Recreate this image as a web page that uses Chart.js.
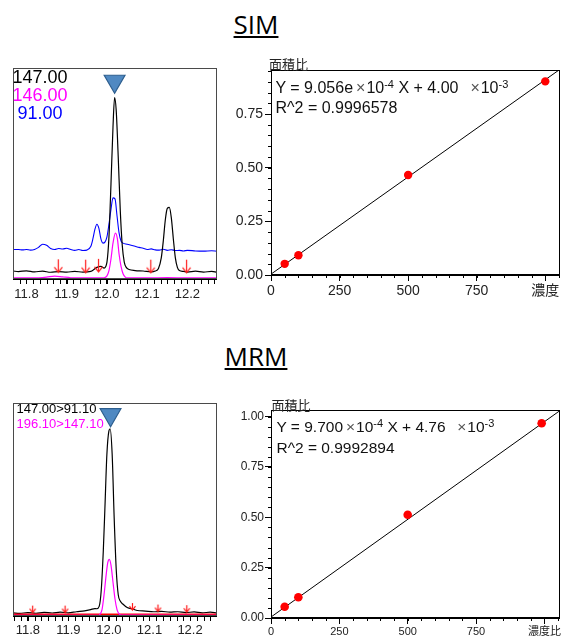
<!DOCTYPE html>
<html><head><meta charset="utf-8">
<script src="https://cdn.jsdelivr.net/npm/chart.js@4/dist/chart.umd.min.js"></script>
<style>
html,body{margin:0;padding:0;background:#fff;}
body{width:564px;height:636px;position:relative;overflow:hidden;font-family:"Liberation Sans",Arial,sans-serif;}
.cv{position:absolute;}
.t{position:absolute;white-space:pre;line-height:1;}
.title{font-family:"Open Sans",sans-serif;font-size:26px;text-decoration:underline;text-decoration-thickness:2px;text-underline-offset:2px;color:#000;transform:translateX(-50%);}
.eq{color:#111;}
.eq .x{color:#555;margin-left:3px;margin-right:1px;}
.eq .sup{font-size:11px;position:relative;top:-5px;}
.cjk{font-family:"Noto Sans CJK JP",sans-serif;font-size:13px;color:#222;}
</style></head>
<body>
<canvas id="c1" class="cv" width="230" height="250" style="left:0;top:55px"></canvas>
<canvas id="c2" class="cv" width="334" height="260" style="left:230px;top:50px"></canvas>
<canvas id="c3" class="cv" width="230" height="246" style="left:0;top:390px"></canvas>
<canvas id="c4" class="cv" width="334" height="246" style="left:230px;top:390px"></canvas>
<script>
// ================= DATA =================
const sectionTitles = ['SIM', 'MRM'];
const yAxisTitle = '面積比';
const rtTicks = [11.8, 11.9, 12.0, 12.1, 12.2];

// SIM chromatogram (retention time [min], relative intensity)
const simLabels = ['147.00', '146.00', ' 91.00'];
const sim147 = [[11.767,3.8],[11.78,3.5],[11.80,3.9],[11.82,3.4],[11.84,3.7],[11.86,3.2],[11.88,3.5],[11.90,3.3],[11.92,3.6],[11.94,3.3],[11.96,3.6],[11.975,5.5],[11.985,6.0],[11.993,5.2],[12.000,8],[12.005,20],[12.010,45],[12.015,72],[12.019,86],[12.023,80],[12.028,58],[12.033,33],[12.038,16],[12.043,8],[12.048,5.5],[12.055,4.5],[12.07,4.0],[12.09,3.8],[12.11,3.4],[12.12,3.8],[12.128,5],[12.135,10],[12.14,18],[12.145,28],[12.150,33.5],[12.155,34],[12.160,29],[12.165,19],[12.170,10],[12.175,5.5],[12.18,4],[12.19,3.6],[12.20,3.3],[12.22,3.7],[12.24,3.3],[12.26,3.6],[12.273,3.3]];
const sim146 = [[11.767,0.5],[11.80,0.5],[11.83,0.6],[11.85,0.9],[11.87,1.4],[11.89,1.0],[11.91,0.6],[11.95,0.5],[11.99,0.5],[11.995,0.7],[12.000,1.5],[12.005,4],[12.010,9.5],[12.015,17],[12.021,21.8],[12.026,19],[12.030,12],[12.035,6],[12.040,2.5],[12.045,1.0],[12.05,0.5],[12.10,0.5],[12.15,0.7],[12.20,0.5],[12.273,0.5]];
const sim91 = [[11.767,14.0],[11.78,14.0],[11.79,13.8],[11.80,14.0],[11.81,13.7],[11.82,14.0],[11.83,15.0],[11.84,16.5],[11.85,16.0],[11.86,14.5],[11.87,14.0],[11.88,14.5],[11.89,14.2],[11.90,14.6],[11.91,14.0],[11.92,13.6],[11.93,14.0],[11.94,13.5],[11.95,13.7],[11.96,15.5],[11.965,19],[11.970,23.5],[11.975,26],[11.980,24],[11.985,19],[11.990,17],[11.995,17.5],[12.000,20],[12.005,26],[12.010,33],[12.015,38.5],[12.020,38],[12.025,30],[12.030,22],[12.035,18],[12.040,17],[12.05,16.5],[12.06,16.0],[12.07,15.5],[12.08,15.0],[12.09,14.6],[12.10,14.0],[12.11,14.3],[12.12,13.8],[12.13,13.7],[12.14,14.1],[12.15,13.6],[12.16,13.9],[12.17,13.5],[12.18,13.6],[12.19,13.3],[12.20,13.6],[12.22,13.3],[12.24,13.2],[12.26,13.4],[12.273,13.2]];
const simArrowRT = [11.879, 11.947, 11.979, 12.109, 12.198];
const simArrowInt = [3.2, 3.0, 3.4, 3.0, 3.0];
const simPeakRT = [12.019];
const simPeakMark = [93.8];

// MRM chromatogram
const mrmLabels = ['147.00>91.10', '196.10>147.10'];
const mrm147 = [[11.764,1.5],[11.78,1.2],[11.80,1.6],[11.82,1.3],[11.84,1.7],[11.86,1.4],[11.88,1.8],[11.90,1.5],[11.92,2.0],[11.94,2.4],[11.955,3.0],[11.965,3.5],[11.970,3.4],[11.976,4.5],[11.981,12],[11.986,30],[11.990,50],[11.995,76],[12.000,87],[12.003,88],[12.008,76],[12.013,46],[12.018,22],[12.023,10],[12.028,7],[12.035,5.5],[12.045,4.0],[12.06,3.2],[12.07,2.6],[12.09,2.3],[12.11,2.0],[12.13,2.2],[12.15,1.8],[12.17,2.0],[12.19,1.6],[12.21,1.9],[12.23,1.5],[12.25,1.8],[12.266,1.4]];
const mrm196 = [[11.764,0.3],[11.90,0.3],[11.975,0.3],[11.978,0.8],[11.983,3],[11.988,10],[11.993,19],[11.997,25],[12.001,26.6],[12.005,24],[12.010,16],[12.015,8],[12.020,3],[12.025,1],[12.030,0.4],[12.266,0.3]];
const mrmBaseline = [[11.764,0.8],[12.266,0.8]];
const mrmArrowRT = [11.812, 11.892, 12.058, 12.121, 12.192];
const mrmArrowInt = [1.6, 1.6, 2.8, 2.1, 1.8];
const mrmPeakRT = [12.004];
const mrmPeakMark = [94.6];

// Calibration curves (concentration, area ratio)
const calXTicks = [0, 250, 500, 750, 1000];
const simCalXLabels = ['0', '250', '500', '750', '濃度'];
const mrmCalXLabels = ['0', '250', '500', '750', '濃度比'];
const simCalYTicks = [0, 0.25, 0.5, 0.75];
const mrmCalYTicks = [0, 0.25, 0.5, 0.75, 1.0];
const simConc = [50, 100, 500, 1000];
const simRatio = [0.052, 0.092, 0.466, 0.902];
const mrmConc = [50, 100, 500, 990];
const mrmRatio = [0.056, 0.103, 0.513, 0.967];
const simSlope = 9.056e-4, simIntercept = 4.00e-3;
const mrmSlope = 9.700e-4, mrmIntercept = 4.76e-3;
const simEq = ['9.056e', '-4', '4.00', '-3', '0.9996578'];
const mrmEq = ['9.700', '-4', '4.76', '-3', '0.9992894'];

// ================= HELPERS =================
const TICK_FONT = '"Liberation Sans", Arial, "Noto Sans CJK JP", sans-serif';

function addText(html, cls, left, top, style) {
  const d = document.createElement('div');
  d.className = 't ' + cls;
  d.innerHTML = html;
  d.style.left = left + 'px';
  d.style.top = top + 'px';
  if (style) d.style.cssText += style;
  document.body.appendChild(d);
}

function makeArrow(len, head, w) {
  const c = document.createElement('canvas');
  c.width = w; c.height = len * 2 + 2;
  const g = c.getContext('2d');
  g.strokeStyle = '#ff1a1a'; g.lineWidth = 1.2;
  const cx = w / 2, tip = len + 1;
  g.beginPath();
  g.moveTo(cx, 1); g.lineTo(cx, tip);
  g.moveTo(cx - head, tip - head * 1.3); g.lineTo(cx, tip); g.lineTo(cx + head, tip - head * 1.3);
  g.stroke();
  return c;
}

const framePlugin = {
  id: 'frame',
  afterDatasetsDraw(chart, args, opts) {
    const a = chart.chartArea, ctx = chart.ctx;
    ctx.save();
    ctx.strokeStyle = opts.color || '#000';
    ctx.lineWidth = 1;
    ctx.strokeRect(Math.round(a.left) + 0.5, Math.round(a.top) + 0.5, Math.round(a.right - a.left) - 1, Math.round(a.bottom - a.top) - 1);
    ctx.restore();
  }
};

const minorTickPlugin = {
  id: 'minorTicks',
  afterDraw(chart, args, opts) {
    const ctx = chart.ctx;
    ctx.save();
    ctx.strokeStyle = '#000';
    ctx.lineWidth = 1;
    (opts.axes || []).forEach(ax => {
      const s = chart.scales[ax.id];
      const k0 = Math.ceil(s.min / ax.step - 1e-6), k1 = Math.floor(s.max / ax.step + 1e-6);
      for (let k = k0; k <= k1; k++) {
        const p = Math.round(s.getPixelForValue(k * ax.step)) + 0.5;
        ctx.beginPath();
        if (s.isHorizontal()) { ctx.moveTo(p, s.top); ctx.lineTo(p, s.top + ax.len); }
        else { ctx.moveTo(s.right, p); ctx.lineTo(s.right - ax.len, p); }
        ctx.stroke();
      }
    });
    ctx.restore();
  }
};

function pts(arr) { return arr.map(p => ({ x: p[0], y: p[1] })); }
function trace(arr, color, w) {
  return { data: pts(arr), showLine: true, borderColor: color, borderWidth: w, pointRadius: 0, cubicInterpolationMode: 'monotone', fill: false };
}

function chromChart(id, xmin, xmax, pad, axisH, labPad, datasets) {
  return new Chart(document.getElementById(id), {
    type: 'scatter',
    data: { datasets },
    plugins: [framePlugin, minorTickPlugin],
    options: {
      responsive: false, animation: false, devicePixelRatio: 1,
      layout: { padding: pad },
      plugins: {
        legend: { display: false }, tooltip: { enabled: false },
        frame: { color: '#4a4a4a' },
        minorTicks: { axes: [{ id: 'x', step: 1 / 60, len: 5 }] }
      },
      events: [],
      scales: {
        x: {
          type: 'linear', min: xmin, max: xmax,
          afterBuildTicks: s => { s.ticks = rtTicks.map(v => ({ value: v })); },
          afterFit: s => { s.height = axisH; s.paddingLeft = 0; s.paddingRight = 0; },
          ticks: { callback: v => v.toFixed(1), font: { size: 13, family: TICK_FONT }, color: '#222', padding: labPad, maxRotation: 0, autoSkip: false },
          grid: { display: true, drawOnChartArea: false, drawTicks: true, tickLength: 5, color: '#000' },
          border: { display: true, color: '#000' }
        },
        y: { type: 'linear', min: 0, max: 100, display: false }
      }
    }
  });
}

function calChart(id, xmax, ymax, yTicks, xLabels, conc, ratio, slope, intercept, axisH, fontX, fontY, labPadX, labPadY, ptR) {
  const fitLine = [0, xmax].map(x => ({ x, y: slope * x + intercept }));
  return new Chart(document.getElementById(id), {
    type: 'scatter',
    data: {
      datasets: [
        { data: conc.map((c, i) => ({ x: c, y: ratio[i] })), pointRadius: ptR, backgroundColor: '#ff0000', borderWidth: 0, pointStyle: 'circle' },
        { data: fitLine, showLine: true, borderColor: '#000', borderWidth: 1, pointRadius: 0 }
      ]
    },
    plugins: [framePlugin, minorTickPlugin],
    options: {
      responsive: false, animation: false, devicePixelRatio: 1,
      layout: { padding: { left: 0, top: 20, right: 1, bottom: 0 } },
      events: [],
      plugins: {
        legend: { display: false }, tooltip: { enabled: false },
        frame: { color: '#000' },
        minorTicks: { axes: [{ id: 'x', step: 50, len: 3 }, { id: 'y', step: 0.05, len: 3 }] }
      },
      scales: {
        x: {
          type: 'linear', min: 0, max: xmax,
          afterBuildTicks: s => { s.ticks = calXTicks.map(v => ({ value: v })); },
          afterFit: s => { s.height = axisH; s.paddingLeft = 0; s.paddingRight = 0; },
          ticks: { callback: (v, i) => xLabels[i], font: { size: fontX, family: TICK_FONT }, color: '#222', padding: labPadX, maxRotation: 0, autoSkip: false },
          grid: { display: true, drawOnChartArea: false, drawTicks: true, tickLength: 6, color: '#000' },
          border: { display: true, color: '#000' }
        },
        y: {
          type: 'linear', min: 0, max: ymax,
          afterBuildTicks: s => { s.ticks = yTicks.map(v => ({ value: v })); },
          afterFit: s => { s.width = 41; s.paddingTop = 0; s.paddingBottom = 0; },
          ticks: { callback: v => v.toFixed(2), font: { size: fontY, family: TICK_FONT }, color: '#222', padding: labPadY, autoSkip: false },
          grid: { display: true, drawOnChartArea: false, drawTicks: true, tickLength: 6, color: '#000' },
          border: { display: true, color: '#000' }
        }
      }
    }
  });
}

// ================= CHARTS =================
const arrowBig = makeArrow(13, 4, 11);
const arrowSmall = makeArrow(7, 3, 9);

chromChart('c1', 11.767, 12.273, { left: 11, top: 8, right: 10, bottom: 0 }, 26, 3, [
  { data: simPeakRT.map((x, i) => ({ x, y: simPeakMark[i] })), pointStyle: 'triangle', rotation: 180, pointRadius: 12, backgroundColor: '#5089c2', borderColor: '#2e5f8f', borderWidth: 1.2 },
  { data: simArrowRT.map((x, i) => ({ x, y: simArrowInt[i] })), pointStyle: arrowBig, pointRadius: 3 },
  trace(sim146, '#ff00ff', 1.2),
  trace(sim147, '#000000', 1.2),
  trace(sim91, '#0000ff', 1.1)
]);

chromChart('c3', 11.764, 12.266, { left: 13, top: 9, right: 7, bottom: 0 }, 20, 2, [
  { data: mrmPeakRT.map((x, i) => ({ x, y: mrmPeakMark[i] })), pointStyle: 'triangle', rotation: 180, pointRadius: 12, backgroundColor: '#5089c2', borderColor: '#2e5f8f', borderWidth: 1.2 },
  { data: mrmArrowRT.map((x, i) => ({ x, y: mrmArrowInt[i] })), pointStyle: arrowSmall, pointRadius: 3 },
  trace(mrm196, '#ff00ff', 1.2),
  trace(mrmBaseline, '#ff0000', 1.5),
  trace(mrm147, '#000000', 1.2)
]);

calChart('c2', 1053, 0.955, simCalYTicks, simCalXLabels, simConc, simRatio, simSlope, simIntercept, 35, 14, 14, 2, 2, 4.2);
calChart('c4', 1056, 1.033, mrmCalYTicks, mrmCalXLabels, mrmConc, mrmRatio, mrmSlope, mrmIntercept, 18, 11, 12, 1, 1, 4.3);

// ================= TEXT =================
addText(sectionTitles[0], 'title', 256, 10.9);
addText(sectionTitles[1], 'title', 256, 342.5);

const simColors = ['#000000', '#ff00ff', '#0000ff'];
const simTops = [67.6, 86.0, 104.3];
simLabels.forEach((l, i) => addText(l, '', 12.5, simTops[i], 'font-size:18px;color:' + simColors[i]));
const mrmColors = ['#000000', '#ff00ff'];
const mrmTops = [402.3, 416.6];
mrmLabels.forEach((l, i) => addText(l, '', 16.5, mrmTops[i], 'font-size:13px;color:' + mrmColors[i]));

addText(yAxisTitle, 'cjk', 269, 57);
addText(yAxisTitle, 'cjk', 271.5, 397.5);

function eqHtml(e) {
  return 'Y = ' + e[0] + '<span class="x">×</span>10<span class="sup">' + e[1] + '</span> X + ' + e[2] +
    '&nbsp; <span class="x">×</span>10<span class="sup">' + e[3] + '</span>';
}
addText(eqHtml(simEq), 'eq', 275.5, 79.8, 'font-size:16px');
addText('R^2 = ' + simEq[4], 'eq', 275.5, 99.8, 'font-size:16px');
addText(eqHtml(mrmEq), 'eq', 276.5, 418.6, 'font-size:15.5px');
addText('R^2 = ' + mrmEq[4], 'eq', 276.5, 440.2, 'font-size:15.5px');
</script>
</body></html>
